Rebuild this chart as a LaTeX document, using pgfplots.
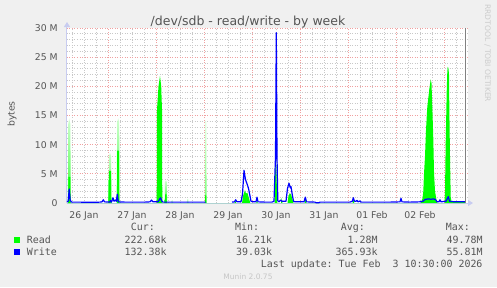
\documentclass[border=0pt]{standalone}
\usepackage{fontspec}
\setmainfont{DejaVu Sans}
\setmonofont{DejaVu Sans Mono}
\usepackage{pgfplots}
\pgfplotsset{compat=1.18}
\usetikzlibrary{arrows.meta}

\definecolor{bgcol}{HTML}{F0F0F0}
\definecolor{txt}{HTML}{555555}
\definecolor{axiscol}{HTML}{C8CCF0}
\definecolor{mgrid}{HTML}{F0A0A0}
\definecolor{mingrid}{HTML}{C8C8C8}
\definecolor{readc}{HTML}{00FF00}
\definecolor{writec}{HTML}{0000FF}

\tikzset{
  lg/.style={font=\ttfamily\fontsize{9.95}{12}\selectfont, text=txt, inner sep=0pt},
  fade/.style={draw=none, top color=readc!18, bottom color=readc!80},
}

\begin{document}
\begin{tikzpicture}
\useasboundingbox (-67pt,-84pt) rectangle (430pt,203pt);
\fill[bgcol] (-67pt,-84pt) rectangle (430pt,203pt);
% x: hours since 26 Jan 00:00, y: bytes in millions
\begin{axis}[
  at={(0pt,0pt)}, anchor=south west,
  scale only axis, width=401pt, height=175pt,
  xmin=3.5, xmax=204, ymin=0, ymax=30,
  axis lines=left,
  axis line style={draw=axiscol, line width=1pt},
  x axis line style={-{Triangle[width=6pt,length=5pt]}, shorten >=-5pt},
  y axis line style={-{Triangle[width=6pt,length=5pt]}, shorten >=-6pt},
  axis background/.style={fill=white},
  xtick={24,48,72,96,120,144,168,192}, xticklabels={},
  minor xtick={6,12,18,30,36,42,54,60,66,78,84,90,102,108,114,126,132,138,150,156,162,174,180,186,198},
  extra x ticks={12,36,60,84,108,132,156,180},
  extra x tick labels={26 Jan,27 Jan,28 Jan,29 Jan,30 Jan,31 Jan,01 Feb,02 Feb},
  extra x tick style={grid=none},
  ytick={0,5,10,15,20,25,30},
  yticklabels={0,5 M,10 M,15 M,20 M,25 M,30 M},
  minor y tick num=4,
  grid=both,
  major grid style={draw=mgrid, line width=0.8pt, dash pattern=on 1pt off 1.5pt},
  minor grid style={draw=mingrid, line width=0.8pt, dash pattern=on 1pt off 1.5pt},
  tick style={draw=none},
  tick label style={font=\fontsize{9.3}{11}\selectfont, text=txt, inner sep=0pt},
  xticklabel style={anchor=base, yshift=-13.5pt},
  yticklabel style={anchor=east, xshift=-7pt},
  unbounded coords=jump,
]
% faded read peaks
\addplot[fade] coordinates {(3.95,0) (4.1,13.5) (4.6,14.5) (5.2,13.5) (5.35,0)} \closedcycle;
\addplot[fade] coordinates {(24.3,0) (24.45,8) (25,8.6) (25.55,8) (25.7,0)} \closedcycle;
\addplot[fade] coordinates {(28.4,0) (28.55,13.8) (29.1,14.5) (29.6,13.8) (29.75,0)} \closedcycle;
\addplot[fade] coordinates {(52.35,0) (52.5,3.6) (53,3.9) (53.4,3.6) (53.55,0)} \closedcycle;
\addplot[draw=none, top color=readc!15, bottom color=readc!45] coordinates {(55.7,0) (55.9,0.5) (56.4,0.5) (56.6,0)} \closedcycle;
\addplot[draw=none, top color=readc!15, bottom color=readc!45] coordinates {(63.4,0) (63.6,0.7) (64.1,0.7) (64.3,0)} \closedcycle;
\addplot[draw=none, top color=readc!10, bottom color=readc!55] coordinates {(72.4,0) (72.55,13.8) (72.85,14.2) (73.15,13.8) (73.3,0)} \closedcycle;
% read
\addplot[draw=none, fill=readc] coordinates {
 (3.5,0) (4.1,0) (4.25,4.5) (5.15,4.5) (5.3,0)
 (24.35,0) (24.5,5.5) (25.5,5.5) (25.65,0)
 (28.45,0) (28.6,9) (29.5,9) (29.65,0)
 (48.35,0) (48.5,16) (49.25,20) (50,21.8) (50.6,20) (51,16) (51.15,0)
 (52.4,0) (52.6,1.5) (53.25,1.5) (53.4,0)
 (72.5,0) (72.65,1.4) (73.1,1.4) (73.25,0)
 (87.25,0) (87.6,0.5) (88,0)
 (91,0) (91.5,1.2) (92.5,2.2) (93,1.6) (93.65,1.8) (94.5,0.8) (95.15,0)
 (98.15,0) (98.5,0.6) (98.85,0)
 (107.25,0) (107.65,6) (108,8) (108.4,3) (108.65,0)
 (110.5,0) (110.85,0.9) (111.2,0)
 (113.75,0) (114.25,1.2) (114.9,1.7) (115.5,1.5) (116.25,0.6) (116.75,0)
 (122.25,0) (122.75,0.7) (123.25,0)
 (146.25,0) (146.65,0.8) (147.15,0)
 (180.5,0) (181.25,0.8) (181.65,2) (182,5) (182.5,8) (183,12.5) (183.65,16.5) (184.65,19.5) (185.35,21.2) (185.75,20.5) (186.15,16.5) (186.65,11) (187,5.3) (187.5,2) (188.25,0.5) (188.75,0)
 (192.25,0) (192.5,2) (192.85,10.3) (193.35,19) (193.65,22.5) (193.9,23.4) (194.25,23) (194.5,22) (194.65,16.5) (195,7.9) (195.35,1) (195.75,0.3)
 (197.5,0.3) (202.5,0.3) (202.5,0)
} \closedcycle;
% write
\addplot[writec, line width=1.2pt, line join=round] coordinates {
 (3.5,0.2) (4.1,0.3) (4.6,2.4) (5.1,0.5) (5.75,0.15) (10,0.15) (15,0.12) (20,0.15)
 (21,0.2) (21.65,0.55) (22.25,0.2) (24.75,0.15) (25.25,0.4) (25.75,0.15) (26.5,0.9)
 (27,0.3) (27.65,0.5) (28.15,0.3) (28.65,1.5) (29.15,0.2) (32.5,0.15) (37.5,0.15)
 (42.5,0.15) (45,0.2) (45.75,0.5) (46.5,0.2) (49,0.2) (50.25,0.9) (51,0.3) (51.5,0.15)
 (55,0.15) (60,0.15) (65,0.15) (70,0.15) (72.75,0.15)
 (79,nan)
 (86,0.15) (87.25,0.2) (87.85,0.55) (88.5,0.2) (90.5,0.2) (91.25,1.5) (92,5.6)
 (92.75,4.0) (93.5,3.3) (94.25,2.5) (95,1.2) (95.5,0.3) (96.5,0.2) (98,0.2) (98.5,1.0)
 (99,0.2) (102.5,0.15) (106,0.15) (107,0.3) (107.75,8) (108.15,29.2) (108.5,8)
 (108.9,0.4) (109.5,0.2) (110.25,0.5) (111,0.3) (113,0.3) (113.75,2.5) (114.5,3.4)
 (115.15,2.6) (115.5,2.8) (116.15,1.4) (116.75,0.3) (117.5,0.2) (122,0.2) (122.65,1.0)
 (123.25,0.2) (127.5,0.15) (128,0.05) (129.5,0.05) (130,0.15) (135,0.15) (140,0.15)
 (145,0.15) (146.15,0.3) (146.65,0.9) (147.25,0.3) (148,0.3) (148.5,0.45) (149,0.2)
 (150,0.35) (150.5,0.15) (155,0.15) (160,0.15) (165,0.15) (170,0.2) (170.5,0.8)
 (171,0.2) (175,0.15) (180,0.2) (181.5,0.3) (182.5,0.6) (184,0.7) (185.5,0.65)
 (187,0.7) (188,0.5) (188.5,0.2) (189.5,0.2) (190,0.55) (190.5,0.2) (193,0.3)
 (194.15,1.1) (194.75,0.3) (197.5,0.2) (202.5,0.2)
};
% last update marker
\draw[gray, line width=1pt] (axis cs:202.5,0) -- (axis cs:202.5,30);
\end{axis}

\node[anchor=base, font=\fontsize{12.5}{14}\selectfont, text=txt, inner sep=0pt] at (181pt,178pt) {/dev/sdb - read/write - by week};
\node[rotate=90, anchor=base, font=\fontsize{9.3}{11}\selectfont, text=txt, inner sep=0pt] at (-52.5pt,89pt) {bytes};
\node[rotate=-90, anchor=base, font=\fontsize{7.6}{9}\selectfont, text=gray!40, inner sep=0pt] at (418pt,149.7pt) {RRDTOOL / TOBI OETIKER};

% legend
\node[lg, anchor=base east] at (88pt,-27.7pt) {Cur:};
\node[lg, anchor=base east] at (192.3pt,-27.7pt) {Min:};
\node[lg, anchor=base east] at (298pt,-27.7pt) {Avg:};
\node[lg, anchor=base east] at (403pt,-27.7pt) {Max:};

\fill[readc] (-53pt,-40pt) rectangle (-47pt,-34pt);
\node[lg, anchor=base west] at (-40.3pt,-40pt) {Read};
\node[lg, anchor=base east] at (99.7pt,-40pt) {222.68k};
\node[lg, anchor=base east] at (205.3pt,-40pt) {16.21k};
\node[lg, anchor=base east] at (310.7pt,-40pt) {1.28M};
\node[lg, anchor=base east] at (415.7pt,-40pt) {49.78M};

\fill[writec] (-53pt,-52.3pt) rectangle (-47pt,-46.3pt);
\node[lg, anchor=base west] at (-40.3pt,-52.3pt) {Write};
\node[lg, anchor=base east] at (99.7pt,-52.3pt) {132.38k};
\node[lg, anchor=base east] at (205.3pt,-52.3pt) {39.03k};
\node[lg, anchor=base east] at (310.7pt,-52.3pt) {365.93k};
\node[lg, anchor=base east] at (415.7pt,-52.3pt) {55.81M};

\node[lg, anchor=base east] at (415.7pt,-64pt) {Last update: Tue Feb\ \ 3 10:30:00 2026};
\node[anchor=base, font=\fontsize{7.5}{9}\selectfont, text=gray!45, inner sep=0pt] at (181pt,-76pt) {Munin 2.0.75};
\end{tikzpicture}
\end{document}
